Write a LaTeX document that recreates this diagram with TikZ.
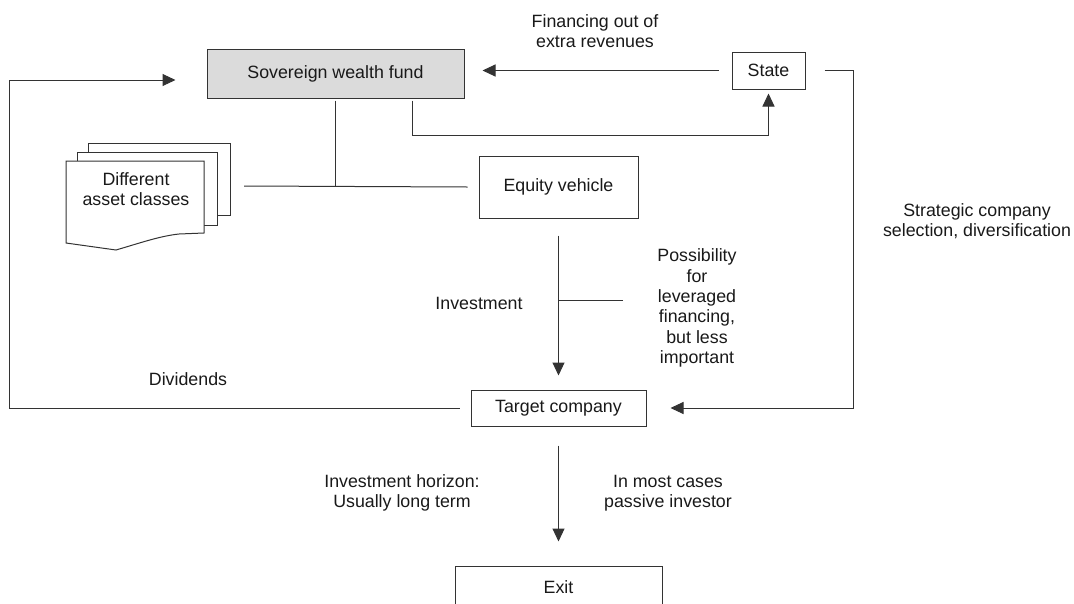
\documentclass[tikz,border=0pt]{standalone}
\usepackage{fontspec}
\setmainfont{Liberation Sans}
\usepackage{tikz}
\usetikzlibrary{positioning,arrows.meta,calc}

\begin{document}
\begin{tikzpicture}[x=1pt, y=-1pt, line width=1pt, node distance=20pt,
    font=\fontsize{17.8}{20.3}\selectfont]
    \tikzstyle{box}=[rectangle, draw=black!80, fill=white, inner sep=0pt, text=black!90]
    \tikzstyle{fund}=[box, fill=black!14]
    \tikzstyle{txt}=[align=center, inner sep=0pt, text=black!90]
    \tikzstyle{line}=[draw=black!80]
    \tikzstyle{arr}=[line, -{Triangle[length=13pt, width=12pt]}]

    \useasboundingbox (0,0) rectangle (1074,603);
    \clip (0,0) rectangle (1074,603);

    % Fund and state
    \node[fund, minimum width=257pt, minimum height=49pt] (swf) at (335.5,73.5) {Sovereign wealth fund};
    \node[box, minimum width=73pt, minimum height=37pt, right=267pt of swf, yshift=3pt] (state) {State};

    % Equity vehicle, target company and exit
    \node[box, minimum width=159pt, minimum height=62pt, below right=57pt and 14pt of swf] (equity) {Equity vehicle};
    \node[box, minimum width=175pt, minimum height=36pt, below=171pt of equity] (target) {Target company};
    \node[box, minimum width=207pt, minimum height=42pt, below=139pt of target] (exit) {Exit};

    % Different asset classes (stacked pages)
    \draw[line] (88,152) -- (88,143) -- (230,143) -- (230,215) -- (217,215);
    \draw[line] (77,161) -- (77,152) -- (217,152) -- (217,225) -- (204,225);
    \draw[line, fill=white] (66,161) -- (204,161) -- (204,233) -- (179,234)
        .. controls (160,236) and (140,243) .. (116,250) -- (66,243) -- cycle;
    \node[txt] (assets) at (136,189) {Different\\asset classes};

    % Connectors
    \coordinate (docs) at (244,186);
    \draw[line] ([yshift=-2pt]swf.south) -- (swf.south |- equity.west);
    \draw[line] (docs) -- ([xshift=-11pt]equity.west);
    \draw[arr] ([xshift=-13pt]state.west) -- ([xshift=18pt]swf.east |- state.west);
    \draw[arr] ([xshift=76.5pt,yshift=-2pt]swf.south) -- ++(0,35) -| ([yshift=-4pt]state.south);
    \draw[arr] ([xshift=19pt]state.east) -- ++(29,0) |- ([xshift=24pt]target.east);
    \draw[arr] ([xshift=-11pt]target.west) -- ++(-450,0) |- ([xshift=-31pt,yshift=-6.5pt]swf.west);
    \draw[arr] ($(equity.south)+(0,17)$) -- ([yshift=14pt]target.north);
    \coordinate (lev) at (623,300);
    \draw[line] (lev) -- (lev -| target.north);
    \draw[arr] ([yshift=-19pt]target.south) -- ([yshift=24pt]exit.north);

    % Labels
    \node[txt] (fin) at (595,31) {Financing out of\\extra revenues};
    \node[txt] (strat) at (977,221) {Strategic company\\selection, diversification};
    \node[txt] (div) at (188,379) {Dividends};
    \node[txt] (inv) at (479,303) {Investment};
    \node[txt] (poss) at (697,308) {Possibility\\for\\leveraged\\financing,\\but less\\important};
    \node[txt] (horiz) at (402,493) {Investment horizon:\\Usually long term};
    \node[txt] (passive) at (668,493) {In most cases\\passive investor};
\end{tikzpicture}
\end{document}
